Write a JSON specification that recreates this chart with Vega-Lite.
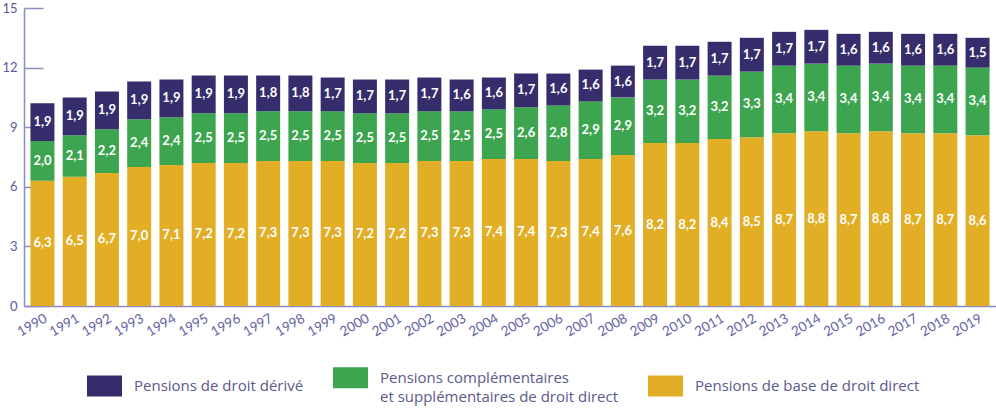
{
  "$schema": "https://vega.github.io/schema/vega-lite/v6.json",
  "width": 972,
  "height": 298,
  "autosize": {"type": "none"},
  "padding": {"left": 24, "top": 8, "right": 0, "bottom": 104},
  "background": "white",
  "config": {
    "locale": {"number": {"decimal": ",", "thousands": "\u00a0", "grouping": [3], "currency": ["", " €"]}},
    "view": {"stroke": null},
    "font": "Lato",
    "style": {"guide-label": {"lineHeight": 19}}
  },
  "data": {
    "values": [
      {"annee": "1990", "base": 6.3, "compl": 2.0, "derive": 1.9},
      {"annee": "1991", "base": 6.5, "compl": 2.1, "derive": 1.9},
      {"annee": "1992", "base": 6.7, "compl": 2.2, "derive": 1.9},
      {"annee": "1993", "base": 7.0, "compl": 2.4, "derive": 1.9},
      {"annee": "1994", "base": 7.1, "compl": 2.4, "derive": 1.9},
      {"annee": "1995", "base": 7.2, "compl": 2.5, "derive": 1.9},
      {"annee": "1996", "base": 7.2, "compl": 2.5, "derive": 1.9},
      {"annee": "1997", "base": 7.3, "compl": 2.5, "derive": 1.8},
      {"annee": "1998", "base": 7.3, "compl": 2.5, "derive": 1.8},
      {"annee": "1999", "base": 7.3, "compl": 2.5, "derive": 1.7},
      {"annee": "2000", "base": 7.2, "compl": 2.5, "derive": 1.7},
      {"annee": "2001", "base": 7.2, "compl": 2.5, "derive": 1.7},
      {"annee": "2002", "base": 7.3, "compl": 2.5, "derive": 1.7},
      {"annee": "2003", "base": 7.3, "compl": 2.5, "derive": 1.6},
      {"annee": "2004", "base": 7.4, "compl": 2.5, "derive": 1.6},
      {"annee": "2005", "base": 7.4, "compl": 2.6, "derive": 1.7},
      {"annee": "2006", "base": 7.3, "compl": 2.8, "derive": 1.6},
      {"annee": "2007", "base": 7.4, "compl": 2.9, "derive": 1.6},
      {"annee": "2008", "base": 7.6, "compl": 2.9, "derive": 1.6},
      {"annee": "2009", "base": 8.2, "compl": 3.2, "derive": 1.7},
      {"annee": "2010", "base": 8.2, "compl": 3.2, "derive": 1.7},
      {"annee": "2011", "base": 8.4, "compl": 3.2, "derive": 1.7},
      {"annee": "2012", "base": 8.5, "compl": 3.3, "derive": 1.7},
      {"annee": "2013", "base": 8.7, "compl": 3.4, "derive": 1.7},
      {"annee": "2014", "base": 8.8, "compl": 3.4, "derive": 1.7},
      {"annee": "2015", "base": 8.7, "compl": 3.4, "derive": 1.6},
      {"annee": "2016", "base": 8.8, "compl": 3.4, "derive": 1.6},
      {"annee": "2017", "base": 8.7, "compl": 3.4, "derive": 1.6},
      {"annee": "2018", "base": 8.7, "compl": 3.4, "derive": 1.6},
      {"annee": "2019", "base": 8.6, "compl": 3.4, "derive": 1.5}
    ]
  },
  "transform": [
    {"fold": ["base", "compl", "derive"], "as": ["cle", "valeur"]},
    {"calculate": "datum.cle == 'base' ? 'Pensions de base de droit direct' : datum.cle == 'compl' ? 'Pensions complémentaires et supplémentaires de droit direct' : 'Pensions de droit dérivé'", "as": "serie"},
    {"calculate": "indexof(['base','compl','derive'], datum.cle)", "as": "rang"},
    {"stack": "valeur", "groupby": ["annee"], "sort": [{"field": "rang", "order": "ascending"}], "as": ["v0", "v1"]},
    {"calculate": "(datum.v0 + datum.v1) / 2", "as": "milieu"}
  ],
  "encoding": {
    "x": {
      "field": "annee", "type": "ordinal",
      "scale": {"paddingInner": 0.256, "paddingOuter": 0.2},
      "axis": {
        "title": null, "labelAngle": -30, "ticks": false, "domainColor": "#8c8cc0", "domainWidth": 1.5,
        "labelColor": "#6462a2", "labelFontSize": 13.5, "labelPadding": 5, "labelFont": "Lato"
      }
    }
  },
  "layer": [
    {
      "mark": {"type": "bar"},
      "encoding": {
        "y": {
          "field": "v0", "type": "quantitative",
          "scale": {"domain": [0, 15], "nice": false},
          "axis": {
            "title": null, "values": [0, 3, 6, 9, 12, 15], "grid": false,
            "tickSize": -19, "labelPadding": 26, "tickColor": "#8c8cc0", "tickWidth": 1.5,
            "domainColor": "#8c8cc0", "domainWidth": 1.5,
            "labelColor": "#5b5a98", "labelFontSize": 13, "labelFont": "Lato"
          }
        },
        "y2": {"field": "v1"},
        "color": {
          "field": "serie", "type": "nominal",
          "scale": {
            "domain": ["Pensions de droit dérivé", "Pensions complémentaires et supplémentaires de droit direct", "Pensions de base de droit direct"],
            "range": ["#352d6c", "#3da54f", "#e1ae26"]
          },
          "legend": {
            "title": null, "orient": "none", "direction": "horizontal", "columns": 3,
            "legendX": 63, "legendY": 352,
            "symbolType": "M-1,-0.6H1V0.6H-1Z", "symbolSize": 1225, "symbolStrokeWidth": 0,
            "labelFontSize": 15, "labelColor": "#5b5a8a", "labelFont": "Open Sans", "labelLimit": 400,
            "labelOffset": 12, "columnPadding": 29,
            "labelExpr": "datum.label == 'Pensions complémentaires et supplémentaires de droit direct' ? ['Pensions complémentaires', 'et supplémentaires de droit direct'] : datum.label"
          }
        }
      }
    },
    {
      "mark": {"type": "text", "color": "white", "fontWeight": "bold", "fontSize": 13, "font": "Lato"},
      "encoding": {
        "y": {"field": "milieu", "type": "quantitative"},
        "text": {"field": "valeur", "type": "quantitative", "format": ".1f"}
      }
    }
  ]
}
